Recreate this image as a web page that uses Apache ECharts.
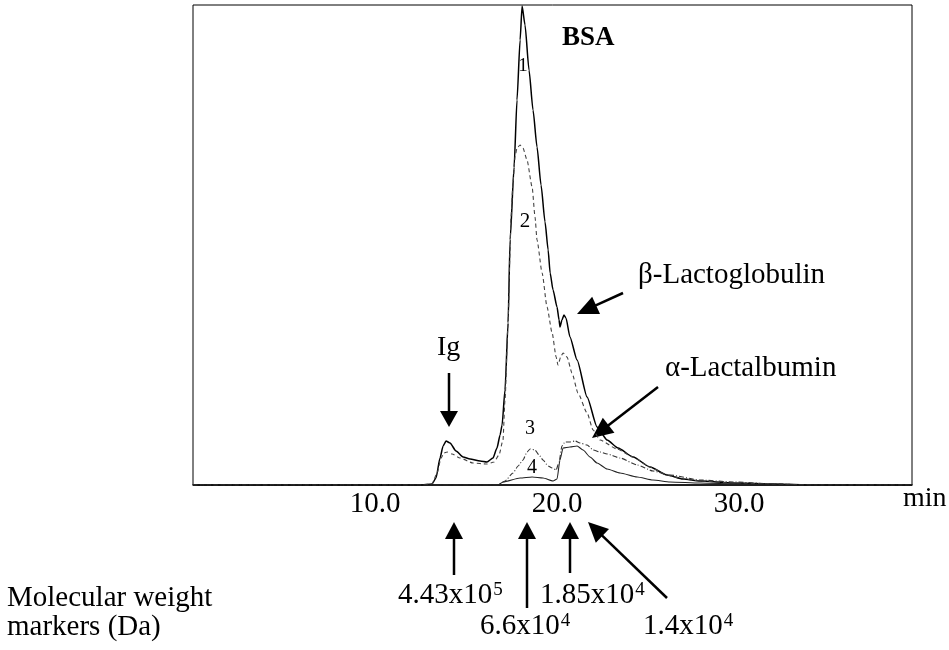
<!DOCTYPE html>
<html><head><meta charset="utf-8">
<script src="https://cdn.jsdelivr.net/npm/echarts@6/dist/echarts.min.js"></script>
<style>html,body{margin:0;padding:0;background:#fff}#c{width:949px;height:650px}</style>
</head><body><div id="c"></div>
<script>
// Elution time (min) vs detector response (arbitrary units)
const xTickLabels = [10, 20, 30];
const curve1 = [[0,0],[12.47,0],[13.13,1],[13.35,7],[13.57,27],[13.74,39],[13.9,44],[14.12,42],[14.45,34],[14.84,28],[15.22,26],[15.77,24],[16.15,23],[16.48,27],[16.7,37],[16.87,50],[16.98,60],[17.14,95],[17.31,162],[17.42,245],[17.64,318],[17.8,385],[17.97,445],[18.08,479],[18.24,460],[18.46,415],[18.68,375],[18.9,338],[19.12,300],[19.34,263],[19.51,235],[19.62,212],[19.78,195],[20.0,178],[20.11,165],[20.16,158],[20.27,165],[20.38,170],[20.49,167],[20.71,148],[21.1,125],[21.65,88],[22.2,58],[22.75,45],[23.35,37],[24.18,28],[25.11,18],[26.04,10],[26.92,6],[27.86,4],[29.67,2],[32,1],[34,0],[39.5,0]];
const curve2 = [[0,0],[12.47,0],[13.13,1],[13.41,12],[13.63,27],[13.79,32],[13.96,33],[14.23,31],[14.67,27],[15.38,22],[16.15,21],[16.54,23],[16.81,30],[17.03,45],[17.14,85],[17.31,162],[17.42,235],[17.47,268],[17.58,302],[17.69,328],[17.8,337],[17.97,340],[18.13,337],[18.35,325],[18.63,298],[18.79,268],[18.9,245],[19.18,212],[19.45,178],[19.73,152],[19.95,128],[20.05,120],[20.22,129],[20.33,132],[20.55,128],[20.82,112],[21.15,92],[21.65,72],[21.98,55],[22.36,45],[23.3,36],[24.18,28],[25.11,18],[26.04,10],[26.92,6],[27.86,4],[29.67,2],[32,1],[34,0],[39.5,0]];
const curve3 = [[0,0],[16.76,0],[17.14,4],[17.58,12],[17.86,19],[18.13,25],[18.35,33],[18.52,36],[18.79,35],[19.01,30],[19.23,25],[19.51,19],[19.73,17],[19.95,15],[20.11,23],[20.27,39],[20.44,43],[20.71,43],[20.99,44],[21.26,42],[21.65,40],[21.98,35],[22.36,33],[22.75,31],[23.46,27],[24.4,20],[25.27,14],[26.21,10],[27.86,5],[29.67,3],[32,1],[34,0],[39.5,0]];
const curve4 = [[0,0],[16.76,0],[17.03,3],[17.97,7],[18.63,8],[19.23,7],[19.78,4],[20.0,6],[20.16,25],[20.33,37],[20.71,38],[21.1,39],[21.43,35],[21.81,28],[22.2,22],[22.75,16],[23.46,12],[24.4,8],[25.27,5],[26.21,3],[27.86,2],[30,1],[32,0],[39.5,0]];
const mwBase = ['4.43x10', '6.6x10', '1.85x10', '1.4x10'];
const mwExp = ['5', '4', '4', '4'];

const SERIF = '"Liberation Serif","Times New Roman",serif';
function arrow(x1, y1, x2, y2, len, w, lw) {
  const dx = x2 - x1, dy = y2 - y1, d = Math.hypot(dx, dy), ux = dx / d, uy = dy / d;
  const bx = x2 - ux * len, by = y2 - uy * len;
  const px = -uy * w / 2, py = ux * w / 2;
  return [
    {type: 'line', shape: {x1: x1, y1: y1, x2: bx + ux, y2: by + uy}, style: {stroke: '#000', lineWidth: lw}},
    {type: 'polygon', shape: {points: [[x2, y2], [bx + px, by + py], [bx - px, by - py]]}, style: {fill: '#000'}}
  ];
}
function txt(s, x, baseline, size, weight, align) {
  return {type: 'text', x: x, y: baseline - 0.32 * size,
    style: {text: s, fill: '#000', align: align || 'left', verticalAlign: 'middle',
      font: (weight || 'normal') + ' ' + size + 'px ' + SERIF}};
}
function mwtxt(i, x, baseline) {
  return {type: 'text', x: x, y: baseline - 0.32 * 29 - 2.5,
    style: {text: '{n|' + mwBase[i] + '}{s|' + mwExp[i] + '}', fill: '#000', align: 'left', verticalAlign: 'middle',
      font: '29px ' + SERIF,
      rich: {
        n: {fontSize: 29, fontFamily: SERIF, lineHeight: 29, verticalAlign: 'bottom'},
        s: {fontSize: 19, fontFamily: SERIF, verticalAlign: 'top', lineHeight: 14, padding: [0, 0, 20, 1]}
      }}};
}

const graphics = [].concat(
  txt('BSA', 562, 47, 27, 'bold'),
  txt('1', 523, 72, 19, 'normal', 'center'),
  txt('2', 525, 228, 21, 'normal', 'center'),
  txt('3', 530, 435, 20, 'normal', 'center'),
  txt('4', 532, 474, 20, 'normal', 'center'),
  txt('Ig', 437, 357, 28),
  txt('\u03B2-Lactoglobulin', 638, 285, 29),
  txt('\u03B1-Lactalbumin', 665, 378, 29),
  txt('min', 903, 508, 28),
  txt('Molecular weight', 7, 608, 29),
  txt('markers (Da)', 7, 637, 29),
  mwtxt(0, 398, 607),
  mwtxt(1, 480, 638),
  mwtxt(2, 540, 607),
  mwtxt(3, 643, 638),
  arrow(449, 373, 449, 427, 16, 18, 2.5),
  arrow(623, 293, 577, 314, 21, 19, 2.5),
  arrow(658, 387, 592, 438, 21, 19, 2.5),
  arrow(454, 575, 454, 522, 17, 18, 2.5),
  arrow(527, 608, 527, 522, 17, 18, 2.5),
  arrow(570, 573, 570, 522, 17, 18, 2.5),
  arrow(667, 598, 588, 522, 20, 19, 2.5)
);

const chart = echarts.init(document.getElementById('c'));
chart.setOption({
  animation: false,
  backgroundColor: '#fff',
  grid: {left: 193, right: 37, top: 5, bottom: 165, show: true, borderColor: '#000', borderWidth: 1},
  xAxis: {type: 'value', min: 0, max: 39.5, interval: 10,
    axisLine: {lineStyle: {color: '#000', width: 1.5}},
    axisTick: {show: false}, splitLine: {show: false},
    axisLabel: {color: '#000', fontSize: 29, fontFamily: SERIF, margin: 5, showMaxLabel: false,
      formatter: v => xTickLabels.indexOf(v) >= 0 ? v.toFixed(1) : ''}},
  yAxis: {type: 'value', min: 0, max: 480, show: false},
  series: [
    {name: '1', type: 'line', data: curve1, showSymbol: false, smooth: 0.2, smoothMonotone: 'x',
      lineStyle: {color: '#000', width: 1.5}},
    {name: '2', type: 'line', data: curve2, showSymbol: false, smooth: 0.2, smoothMonotone: 'x',
      lineStyle: {color: '#444', width: 1.1, type: [4, 3]}},
    {name: '3', type: 'line', data: curve3, showSymbol: false, smooth: 0.2, smoothMonotone: 'x',
      lineStyle: {color: '#333', width: 1.1, type: [5, 2, 1, 2]}},
    {name: '4', type: 'line', data: curve4, showSymbol: false, smooth: 0.2, smoothMonotone: 'x',
      lineStyle: {color: '#222', width: 1.1}}
  ],
  graphic: graphics
});
</script></body></html>
